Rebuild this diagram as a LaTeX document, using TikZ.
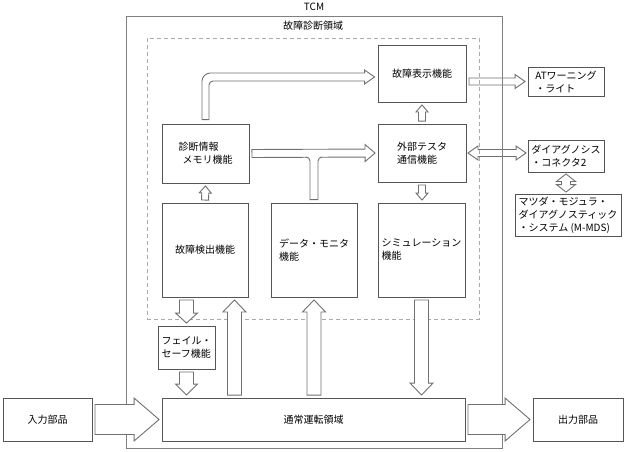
\documentclass[tikz,border=0pt]{standalone}
\usepackage{fontspec}
\setmainfont{Noto Sans CJK JP}
\usetikzlibrary{calc}
\definecolor{boxgray}{HTML}{555555}
\definecolor{arrowgray}{HTML}{707070}
\definecolor{framegray}{HTML}{808080}
\definecolor{dashgray}{HTML}{AAAAAA}
% #1 from, #2 to, #3 half shaft, #4 half head, #5 head length
\newcommand{\blockarrow}[5]{%
  \path (#1) coordinate (ba-a) (#2) coordinate (ba-b);
  \coordinate (ba-s) at ($(ba-a)!2.5pt!(ba-b)$);
  \coordinate (ba-t) at ($(ba-b)!2.5pt!(ba-a)$);
  \coordinate (ba-h) at ($(ba-t)!#5!(ba-s)$);
  \draw[fatarrow] ($(ba-s)!#3!90:(ba-t)$) -- ($(ba-h)!#3!90:(ba-t)$) -- ($(ba-h)!#4!90:(ba-t)$) -- (ba-t)
    -- ($(ba-h)!#4!-90:(ba-t)$) -- ($(ba-h)!#3!-90:(ba-t)$) -- ($(ba-s)!#3!-90:(ba-t)$) -- cycle;}
\newcommand{\dblockarrow}[5]{%
  \path (#1) coordinate (ba-a) (#2) coordinate (ba-b);
  \coordinate (ba-s) at ($(ba-a)!1.5pt!(ba-b)$);
  \coordinate (ba-t) at ($(ba-b)!1.5pt!(ba-a)$);
  \coordinate (ba-h) at ($(ba-t)!#5!(ba-s)$);
  \coordinate (ba-g) at ($(ba-s)!#5!(ba-t)$);
  \draw[fatarrow] (ba-s) -- ($(ba-g)!#4!90:(ba-t)$) -- ($(ba-g)!#3!90:(ba-t)$) -- ($(ba-h)!#3!90:(ba-t)$)
    -- ($(ba-h)!#4!90:(ba-t)$) -- (ba-t) -- ($(ba-h)!#4!-90:(ba-t)$) -- ($(ba-h)!#3!-90:(ba-t)$)
    -- ($(ba-g)!#3!-90:(ba-t)$) -- ($(ba-g)!#4!-90:(ba-t)$) -- cycle;}
\begin{document}
\begin{tikzpicture}[x=1pt, y=-1pt, every node/.style={font=\fontsize{10}{13}\selectfont},
  box/.style={draw=boxgray, line width=0.9pt, inner sep=0pt, align=left},
  frame/.style={draw=framegray, line width=0.9pt, inner sep=0pt},
  fatarrow/.style={draw=arrowgray, fill=white, line width=0.9pt, line join=miter}]
\useasboundingbox (0,0) rectangle (626,451);
\node[box, minimum width=88pt, minimum height=57pt] (disp) at (422,73.5) {故障表示機能};
\node[box, minimum width=88pt, minimum height=58pt] (tester) at (422,153) {外部テスタ\\通信機能};
\node[box, minimum width=87pt, minimum height=59pt] (mem) at (205.5,153.5) {診断情報\\\hspace*{4pt}メモリ機能};
\node[box, minimum width=86pt, minimum height=94pt] (detect) at (205,250) {故障検出機能};
\node[box, minimum width=86pt, minimum height=94pt] (monitor) at (314,250) {データ・モニタ\\機能};
\node[box, minimum width=87pt, minimum height=94pt] (sim) at (421.5,250) {シミュレーション\\機能};
\node[box, minimum width=57pt, minimum height=43pt] (failsafe) at (186.5,347.5) {フェイル・\\セーフ機能};
\node[box, minimum width=303pt, minimum height=43pt] (normal) at (313.5,419.5) {通常運転領域};
\node[box, minimum width=89pt, minimum height=43pt] (input) at (47.5,419.5) {入力部品};
\node[box, minimum width=90pt, minimum height=43pt] (output) at (578,419.5) {出力部品};
\node[box, minimum width=76pt, minimum height=29pt] (atw) at (566,81.5) {ATワーニング\\・ライト};
\node[box, minimum width=76pt, minimum height=32pt] (conn) at (566,156) {ダイアグノシス\\・コネクタ2};
\node[box, minimum width=106pt, minimum height=42pt] (mmds) at (568,215) {マツダ・モジュラ・\\ダイアグノスティック\\・システム (M-MDS)};
% arrows leaving TCM at the top
\blockarrow{disp.east |- atw.west}{atw.west}{3.5pt}{7pt}{10pt}
\dblockarrow{tester.east}{tester.east -| conn.west}{3.5pt}{7pt}{10pt}
% frames
\node[frame, minimum width=376pt, minimum height=432pt] (tcm) at (314,232) {};
\node (tcmlabel) at (314,7) {TCM};
\node[frame, draw=dashgray, dash pattern=on 4pt off 3pt, minimum width=332pt, minimum height=281pt] (diag) at (313,178.5) {};
\node (diaglabel) at (313,26) {故障診断領域};
% small arrows
\blockarrow{detect.north}{mem.south}{3.5pt}{6pt}{7pt}
\blockarrow{tester.north}{disp.south}{3.5pt}{6pt}{7pt}
\blockarrow{tester.south}{tester.south |- sim.north}{3.5pt}{6pt}{7pt}
\blockarrow{mem.east}{tester.west}{4pt}{8.5pt}{10pt}
\dblockarrow{conn.south}{conn.south |- mmds.north}{4.5pt}{9.5pt}{7.5pt}
% memory -> display
\coordinate (bend) at ($(mem.north |- disp.west)+(0,3.5)$);
\coordinate (dtip) at (disp.west |- bend);
\draw[fatarrow] ($(mem.north)+(-3.5,-4)$) -- ($(bend)+(-3.5,4)$)
  .. controls ($(bend)+(-3.5,-0.4)$) and ($(bend)+(0.9,-4)$) .. ($(bend)+(4.5,-4)$)
  -- ($(dtip)+(-13,-4)$) -- ($(dtip)+(-13,-7)$) -- ($(dtip)+(-3,0)$) -- ($(dtip)+(-13,7)$) -- ($(dtip)+(-13,4)$)
  -- ($(bend)+(7.5,4)$) .. controls ($(bend)+(5.3,4)$) and ($(bend)+(3.5,5.8)$) .. ($(bend)+(3.5,8)$)
  -- ($(mem.north)+(3.5,-4)$) -- cycle;
% data monitor joins memory -> tester
\coordinate (tee) at (monitor.north |- tester.west);
\fill[white] ($(tee)+(-8,3.3)$) -- ($(tee)+(8,3.3)$) -- ($(tee)+(8,4)$)
  .. controls ($(tee)+(5.8,4)$) and ($(tee)+(4,5.8)$) .. ($(tee)+(4,8)$)
  -- ($(monitor.north)+(4,-3)$) -- ($(monitor.north)+(-4,-3)$) -- ($(tee)+(-4,8)$)
  .. controls ($(tee)+(-4,5.8)$) and ($(tee)+(-5.8,4)$) .. ($(tee)+(-8,4)$) -- cycle;
\draw[fatarrow, fill=none] ($(tee)+(-8,4)$) .. controls ($(tee)+(-5.8,4)$) and ($(tee)+(-4,5.8)$) .. ($(tee)+(-4,8)$)
  -- ($(monitor.north)+(-4,-3)$) -- ($(monitor.north)+(4,-3)$) -- ($(tee)+(4,8)$)
  .. controls ($(tee)+(4,5.8)$) and ($(tee)+(5.8,4)$) .. ($(tee)+(8,4)$);
% lower arrows
\coordinate (detup) at ($(detect.south east)+(-14,0)$);
\blockarrow{failsafe.north |- detect.south}{failsafe.north}{7pt}{11pt}{10pt}
\blockarrow{failsafe.south}{failsafe.south |- normal.north}{7pt}{11pt}{11pt}
\blockarrow{detup |- normal.north}{detup}{7pt}{11.5pt}{12pt}
\blockarrow{normal.north -| monitor.south}{monitor.south}{7pt}{11.5pt}{12pt}
\blockarrow{sim.south}{sim.south |- normal.north}{7pt}{11.5pt}{12pt}
\blockarrow{input.east}{normal.west}{15pt}{21.5pt}{25pt}
\blockarrow{normal.east}{output.west}{15pt}{21.5pt}{25pt}
\end{tikzpicture}
\end{document}
